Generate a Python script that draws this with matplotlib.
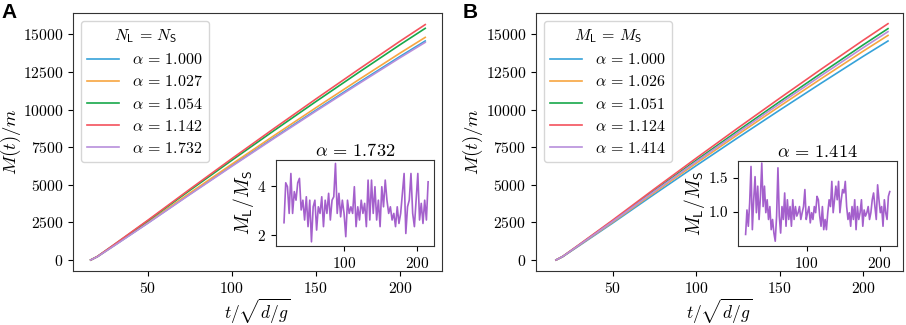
import numpy as np
import matplotlib
matplotlib.use("Agg")
import matplotlib.pyplot as plt

plt.rcParams['font.family'] = 'serif'
plt.rcParams['font.serif'] = ['cmr10']
plt.rcParams['mathtext.fontset'] = 'cm'
plt.rcParams['axes.formatter.use_mathtext'] = True

# 主图数据: 时间点与 M(t)/m
t_main = [16, 20, 25, 30, 40, 50, 75, 100, 125, 150, 175, 200, 215]

labels_a = [r'$\alpha\,=\,1.000$', r'$\alpha\,=\,1.027$', r'$\alpha\,=\,1.054$',
            r'$\alpha\,=\,1.142$', r'$\alpha\,=\,1.732$']
m_a_1000 = [0, 220, 590, 960, 1710, 2460, 4380, 6270, 8130, 9960, 11760, 13530, 14560]
m_a_1027 = [0, 224, 600, 976, 1738, 2501, 4452, 6373, 8264, 10124, 11954, 13753, 14800]
m_a_1054 = [0, 233, 624, 1015, 1809, 2602, 4633, 6632, 8599, 10535, 12438, 14311, 15400]
m_a_1142 = [0, 236, 634, 1032, 1838, 2644, 4708, 6740, 8739, 10706, 12641, 14544, 15650]
m_a_1732 = [0, 219, 586, 954, 1699, 2445, 4353, 6231, 8080, 9898, 11687, 13446, 14470]

labels_b = [r'$\alpha\,=\,1.000$', r'$\alpha\,=\,1.026$', r'$\alpha\,=\,1.051$',
            r'$\alpha\,=\,1.124$', r'$\alpha\,=\,1.414$']
m_b_1000 = [0, 220, 590, 960, 1710, 2460, 4380, 6270, 8130, 9960, 11760, 13530, 14560]
m_b_1026 = [0, 226, 605, 984, 1753, 2522, 4491, 6429, 8337, 10213, 12059, 13874, 14930]
m_b_1051 = [0, 232, 623, 1014, 1806, 2598, 4627, 6623, 8588, 10521, 12422, 14292, 15380]
m_b_1124 = [0, 237, 637, 1036, 1845, 2654, 4726, 6765, 8772, 10747, 12689, 14599, 15710]
m_b_1414 = [0, 229, 615, 1001, 1783, 2565, 4567, 6537, 8476, 10384, 12261, 14106, 15180]

# 插图数据: M_L/M_S
ratio_a = [2.49, 4.12, 3.96, 2.87, 4.50, 2.87, 3.76, 3.41, 4.12, 4.30, 3.01, 3.41, 2.60,
           3.55, 2.33, 3.41, 1.71, 3.14, 3.41, 2.19, 3.14, 2.87, 3.55, 2.33, 3.41, 2.87,
           3.69, 2.60, 3.41, 3.55, 4.91, 2.87, 3.69, 2.73, 3.41, 2.87, 1.92, 3.41, 2.87,
           3.14, 2.87, 3.96, 2.33, 3.14, 2.60, 3.41, 2.87, 3.28, 2.33, 4.23, 2.60, 4.23,
           2.87, 3.96, 2.60, 3.41, 2.33, 3.96, 3.14, 4.23, 3.41, 2.87, 3.14, 2.60, 2.87,
           2.33, 3.14, 2.46, 2.87, 3.69, 4.50, 2.05, 3.14, 3.41, 4.50, 2.87, 2.33, 3.41,
           4.50, 2.60, 3.28, 2.46, 3.41, 2.60, 4.16]
ratio_b = [0.67, 1.03, 0.79, 1.13, 1.67, 0.74, 1.18, 1.52, 0.99, 1.38, 0.89, 1.23, 1.72,
           1.08, 1.38, 0.99, 1.18, 0.89, 1.08, 0.74, 0.89, 0.69, 0.57, 0.94, 1.65, 0.94,
           0.69, 1.08, 0.89, 1.28, 0.79, 1.18, 0.89, 1.08, 0.79, 1.18, 0.89, 1.08, 0.94,
           0.99, 1.08, 0.89, 0.99, 1.08, 1.33, 0.89, 0.99, 1.08, 0.84, 0.99, 0.89, 1.08,
           0.99, 1.23, 1.18, 0.94, 0.79, 1.08, 0.74, 0.89, 0.74, 0.99, 1.18, 1.08, 1.45,
           0.99, 1.18, 1.38, 1.18, 1.45, 0.99, 1.18, 1.33, 1.28, 1.45, 1.08, 0.89, 0.99,
           0.79, 1.08, 0.89, 1.18, 0.74, 1.08, 0.89, 0.99, 1.18, 0.79, 1.03, 0.94, 0.99,
           1.08, 0.89, 0.99, 1.18, 1.28, 1.08, 0.89, 1.40, 1.18, 0.99, 1.08, 0.79, 1.18,
           0.99, 0.89, 1.23, 1.30]
t_inset_a = (18, 215)
t_inset_b = (16.4, 214)

colors = ['#36a2d9', '#f7a541', '#18a84a', '#f4525c', '#b88fdc']
inset_color = '#a460cc'


def draw_panel(fig, rect, inset_rect, series, labels, legend_title,
               ratio, t_range, inset_title, inset_yticks, letter, letter_x, ylab_x):
    ax = fig.add_axes(rect)
    for s, lab, c in zip(series, labels, colors):
        ax.plot(t_main, s, color=c, lw=1.2, label=lab)
    ax.set_xticks([50, 100, 150, 200])
    ax.set_yticks(np.arange(0, 15001, 2500))
    ax.set_xlim(5.5, 225)
    ax.set_ylim(-730, 16420)
    ax.tick_params(labelsize=11.3)
    ax.set_xlabel(r'$t/\sqrt{d/g}$', fontsize=12.5)
    ax.set_ylabel(r'$M(t)/m$', fontsize=13.5)
    ax.xaxis.set_label_coords(0.5, -0.1)
    ax.yaxis.set_label_coords(ylab_x, 0.5)
    for sp in ax.spines.values():
        sp.set_color('#333333')
    leg = ax.legend(title=legend_title, loc='upper left', fontsize=11.5,
                    title_fontsize=11.5, borderaxespad=0.5, labelspacing=0.45)
    leg.get_frame().set_edgecolor('#cccccc')

    ins = fig.add_axes(inset_rect)
    t_ins = np.linspace(t_range[0], t_range[1], len(ratio))
    ins.plot(t_ins, ratio, color=inset_color, lw=1.2)
    ins.set_xticks([100, 200])
    ins.set_yticks(inset_yticks)
    ins.tick_params(labelsize=11)
    ins.set_title(inset_title, fontsize=13.2, pad=3)
    ins.set_ylabel(r'$M_{\mathsf{L}}/M_{\mathsf{S}}$', fontsize=14, labelpad=1)
    for sp in ins.spines.values():
        sp.set_color('#333333')

    fig.text(letter_x, 0.99, letter, fontsize=15, fontweight='bold',
             family='Liberation Sans', va='top', ha='left')
    return ax, ins


def main():
    fig = plt.figure(figsize=(9.06, 3.25), dpi=100)

    ax_a, ins_a = draw_panel(
        fig, [0.0806, 0.1662, 0.4073, 0.7938], [0.3046, 0.2431, 0.1744, 0.2646],
        [m_a_1000, m_a_1027, m_a_1054, m_a_1142, m_a_1732], labels_a,
        r'$N_{\mathsf{L}}\,=\,N_{\mathsf{S}}$', ratio_a, t_inset_a,
        r'$\alpha\,=\,1.732$', [2, 4], 'A', 0.002, -0.135)
    ins_a.set_xlim(7, 223)
    ins_a.set_ylim(1.54, 5.05)

    ax_b, ins_b = draw_panel(
        fig, [0.5916, 0.1662, 0.4051, 0.7938], [0.8146, 0.2431, 0.1755, 0.2615],
        [m_b_1000, m_b_1026, m_b_1051, m_b_1124, m_b_1414], labels_b,
        r'$M_{\mathsf{L}}\,=\,M_{\mathsf{S}}$', ratio_b, t_inset_b,
        r'$\alpha\,=\,1.414$', [1.0, 1.5], 'B', 0.511, -0.14)
    ax_b.set_xlim(4, 224)
    ins_b.set_xlim(6, 224)
    ins_b.set_ylim(0.5, 1.75)
    ins_b.yaxis.set_major_formatter(plt.FormatStrFormatter('%.1f'))

    fig.savefig('out.png', dpi=100)


if __name__ == '__main__':
    main()
